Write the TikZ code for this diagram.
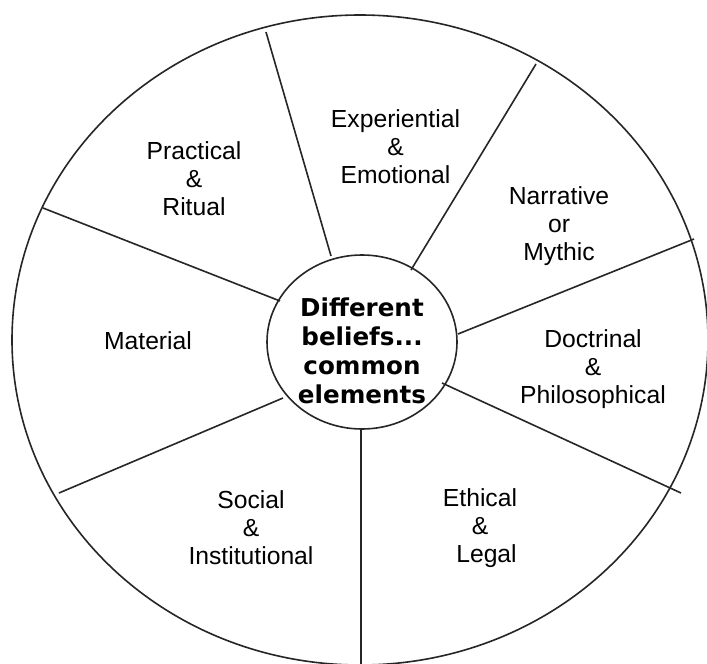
\documentclass[tikz,border=0pt]{standalone}
\usepackage{fontspec}
\setmainfont{Liberation Sans}
\newfontfamily\hubfont{DejaVu Sans}
\usetikzlibrary{shapes.geometric}
\begin{document}
\begin{tikzpicture}[x=1pt,y=-1pt,
  ring/.style={draw=black!85, line width=1.6pt, ellipse, inner sep=0pt},
  spoke/.style={draw=black!85, line width=1.6pt},
  lbl/.style={align=center, inner sep=0pt, font=\fontsize{24.7}{28}\selectfont},
  hub/.style={align=center, inner sep=0pt, font=\hubfont\bfseries\fontsize{24.6}{29}\selectfont}]
\useasboundingbox (0,0) rectangle (707,664);
\fill[white] (0,0) rectangle (707,664);
% outer wheel and hub
\node[ring, minimum width=696pt, minimum height=650pt] (wheel) at (360,340) {};
\node[ring, minimum width=190pt, minimum height=174pt] (hubring) at (362,342) {};
\node[hub] (hubtext) at (362,351) {Different\\beliefs...\\common\\elements};
% spoke end points
\coordinate (o1) at (266,32);  \coordinate (i1) at (331,256);
\coordinate (o2) at (536,64);  \coordinate (i2) at (411,270);
\coordinate (o3) at (694,239); \coordinate (i3) at (458,334);
\coordinate (o4) at (681,493); \coordinate (i4) at (442,383);
\coordinate (o5) at (361,670); \coordinate (i5) at (361,430);
\coordinate (o6) at (59,493);  \coordinate (i6) at (283,398);
\coordinate (o7) at (43,208);  \coordinate (i7) at (280,301);
\foreach \k in {1,...,7} {\draw[spoke] (o\k) -- (i\k);}
% labels
\node[lbl] (practical) at (194,179) {Practical\\\&\\Ritual};
\node[lbl] (experiential) at (395.5,147) {Experiential\\\&\\Emotional};
\node[lbl] (narrative) at (559,226) {Narrative\\or\\Mythic};
\node[lbl] (material) at (148,341) {Material};
\node[lbl] (doctrinal) at (593,369) {Doctrinal\\\&\\Philosophical};
\node[lbl] (social) at (251,528) {Social\\\&\\Institutional};
\node[lbl] (ethical) at (480,528) {Ethical\\\&\\\hspace{13pt}Legal};
\end{tikzpicture}
\end{document}
